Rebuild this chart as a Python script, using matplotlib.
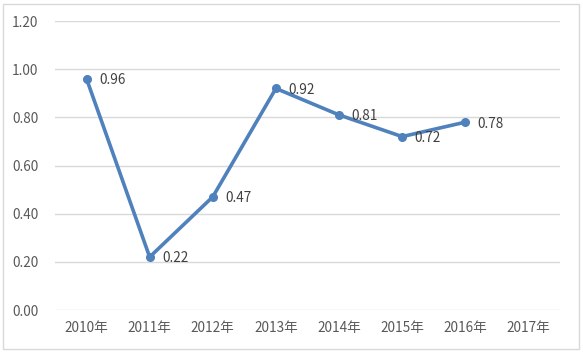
import matplotlib
matplotlib.use("Agg")
import matplotlib.pyplot as plt
from matplotlib.patches import Rectangle

plt.rcParams["font.family"] = ["Noto Sans CJK SC", "DejaVu Sans"]

years = ["2010年", "2011年", "2012年", "2013年", "2014年", "2015年", "2016年", "2017年"]
values = [0.96, 0.22, 0.47, 0.92, 0.81, 0.72, 0.78]

LINE = "#4F81BD"
GRID = "#D9D9D9"
TXT = "#595959"

fig = plt.figure(figsize=(5.83, 3.56), dpi=100)
ax = fig.add_axes([0.0943, 0.1292, 0.8662, 0.8118])

x = list(range(len(values)))
ax.plot(x, values, color=LINE, lw=2.6, marker="o", ms=5.5, solid_capstyle="round")
for xi, v in zip(x, values):
    ax.annotate(f"{v:.2f}", (xi, v), xytext=(9, -1), textcoords="offset points",
                ha="left", va="center", fontsize=9.8, color="#404040")

ax.set_xlim(-0.5, len(years) - 0.5)
ax.set_ylim(0, 1.2)
ax.set_yticks([0, 0.2, 0.4, 0.6, 0.8, 1.0, 1.2])
ax.set_yticklabels([f"{t:.2f}" for t in ax.get_yticks()])
ax.set_xticks(range(len(years)))
ax.set_xticklabels(years)
ax.tick_params(length=0, labelsize=9.8, colors=TXT)
ax.tick_params(axis="y", pad=12)
ax.tick_params(axis="x", pad=8)
ax.grid(axis="y", color=GRID, lw=1)
ax.set_axisbelow(True)
for s in ax.spines.values():
    s.set_visible(False)

fig.patches.append(Rectangle((3 / 583, 7 / 356), 576 / 583, 345 / 356,
                             transform=fig.transFigure, fill=False,
                             edgecolor=GRID, lw=1))

fig.savefig("out.png", dpi=100, facecolor="white")
